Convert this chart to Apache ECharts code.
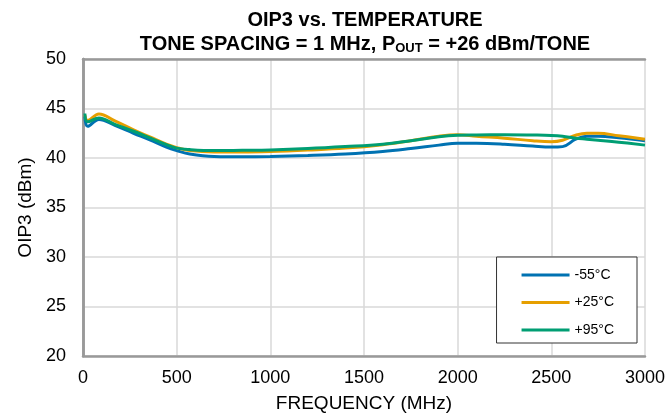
<!DOCTYPE html>
<html>
<head>
<meta charset="utf-8">
<script src="https://cdn.jsdelivr.net/npm/echarts@6/dist/echarts.min.js"></script>
<style>html,body{margin:0;padding:0;background:#fff}#c{width:668px;height:418px}</style>
</head>
<body>
<div id="c"></div>
<script>
var freq = [10, 25, 85, 170, 270, 360, 445, 500, 570, 700, 850, 1000, 1200, 1400, 1600, 1750, 1900, 2000, 2100, 2250, 2400, 2500, 2560, 2630, 2690, 2750, 2860, 3000];
var m55 = [44.2, 43.2, 43.9, 43.3, 42.5, 41.8, 41.1, 40.75, 40.4, 40.15, 40.12, 40.15, 40.25, 40.4, 40.65, 40.95, 41.3, 41.5, 41.5, 41.4, 41.2, 41.1, 41.15, 41.9, 42.2, 42.2, 42.05, 41.75];
var p25 = [44.35, 43.8, 44.45, 43.75, 42.85, 42.1, 41.4, 41.05, 40.75, 40.6, 40.6, 40.65, 40.8, 41.0, 41.35, 41.75, 42.2, 42.35, 42.2, 42.0, 41.75, 41.65, 41.8, 42.3, 42.5, 42.5, 42.25, 41.9];
var p95 = [44.5, 43.65, 44.05, 43.4, 42.7, 42.0, 41.35, 41.0, 40.85, 40.75, 40.78, 40.82, 40.95, 41.15, 41.4, 41.75, 42.15, 42.3, 42.33, 42.35, 42.32, 42.28, 42.2, 42.0, 41.9, 41.8, 41.6, 41.3];
var seriesNames = ['-55°C', '+25°C', '+95°C'];
var seriesColors = ['#0072B2', '#E69F00', '#009E73'];
var xTicks = {min: 0, max: 3000, interval: 500};
var yTicks = {min: 20, max: 50, interval: 5};

function pairs(vals) { return freq.map(function (f, i) { return [f, vals[i]]; }); }
var allVals = [m55, p25, p95];
var FONT = 'Liberation Sans, Arial, sans-serif';

var chart = echarts.init(document.getElementById('c'));
chart.setOption({
  animation: false,
  textStyle: {fontFamily: FONT},
  title: {
    left: 360, top: 3, textAlign: 'center',
    text: '{b|OIP3 vs. TEMPERATURE}\n{b|TONE SPACING = 1 MHz, P}{s|OUT}{b| = +26 dBm/TONE}',
    textStyle: {
      rich: {
        b: {fontSize: 20, fontWeight: 'bold', color: '#000', lineHeight: 24, fontFamily: FONT},
        s: {fontSize: 13, fontWeight: 'bold', color: '#000', lineHeight: 24, fontFamily: FONT, padding: [9, 0, 0, 0]}
      }
    }
  },
  grid: {left: 83, right: 19, top: 59, bottom: 62, containLabel: false},
  legend: {
    orient: 'vertical', right: 31, top: 257,
    data: seriesNames.map(function (n) { return {name: n, icon: 'rect'}; }),
    itemWidth: 48, itemHeight: 3, itemGap: 11.5,
    padding: [10, 23, 5, 25],
    borderColor: '#333', borderWidth: 1, backgroundColor: '#fff',
    textStyle: {fontSize: 14, color: '#000', fontFamily: FONT, lineHeight: 16}
  },
  xAxis: [{
    type: 'value', min: xTicks.min, max: xTicks.max, interval: xTicks.interval,
    name: 'FREQUENCY (MHz)', nameLocation: 'middle', nameGap: 38,
    nameTextStyle: {fontSize: 19, color: '#000', fontFamily: FONT},
    axisLine: {show: true, lineStyle: {color: '#999', width: 2.5}},
    axisTick: {show: false},
    axisLabel: {fontSize: 18, color: '#000', margin: 13, fontFamily: FONT, formatter: function (v) { return String(v); }},
    splitLine: {show: true, lineStyle: {color: '#d9d9d9', width: 1.5}}
  }, {
    type: 'value', position: 'top', min: xTicks.min, max: xTicks.max, interval: xTicks.interval,
    axisLine: {show: true, lineStyle: {color: '#999', width: 2.5}},
    axisTick: {show: false}, axisLabel: {show: false}, splitLine: {show: false}
  }],
  yAxis: [{
    type: 'value', min: yTicks.min, max: yTicks.max, interval: yTicks.interval,
    name: 'OIP3 (dBm)', nameLocation: 'middle', nameGap: 46,
    nameTextStyle: {fontSize: 19, color: '#000', fontFamily: FONT},
    axisLine: {show: true, lineStyle: {color: '#999', width: 2.5}},
    axisTick: {show: false},
    axisLabel: {fontSize: 18, color: '#000', margin: 17, fontFamily: FONT},
    splitLine: {show: true, lineStyle: {color: '#d9d9d9', width: 1.5}}
  }, {
    type: 'value', position: 'right', min: yTicks.min, max: yTicks.max, interval: yTicks.interval,
    axisLine: {show: true, lineStyle: {color: '#999', width: 2.5}},
    axisTick: {show: false}, axisLabel: {show: false}, splitLine: {show: false}
  }],
  series: seriesNames.map(function (n, i) {
    return {
      name: n, type: 'line', data: pairs(allVals[i]),
      smooth: 0.4, symbol: 'none', showSymbol: false,
      lineStyle: {color: seriesColors[i], width: 3},
      itemStyle: {color: seriesColors[i]},
      z: 3 + i
    };
  })
});
</script>
</body>
</html>
